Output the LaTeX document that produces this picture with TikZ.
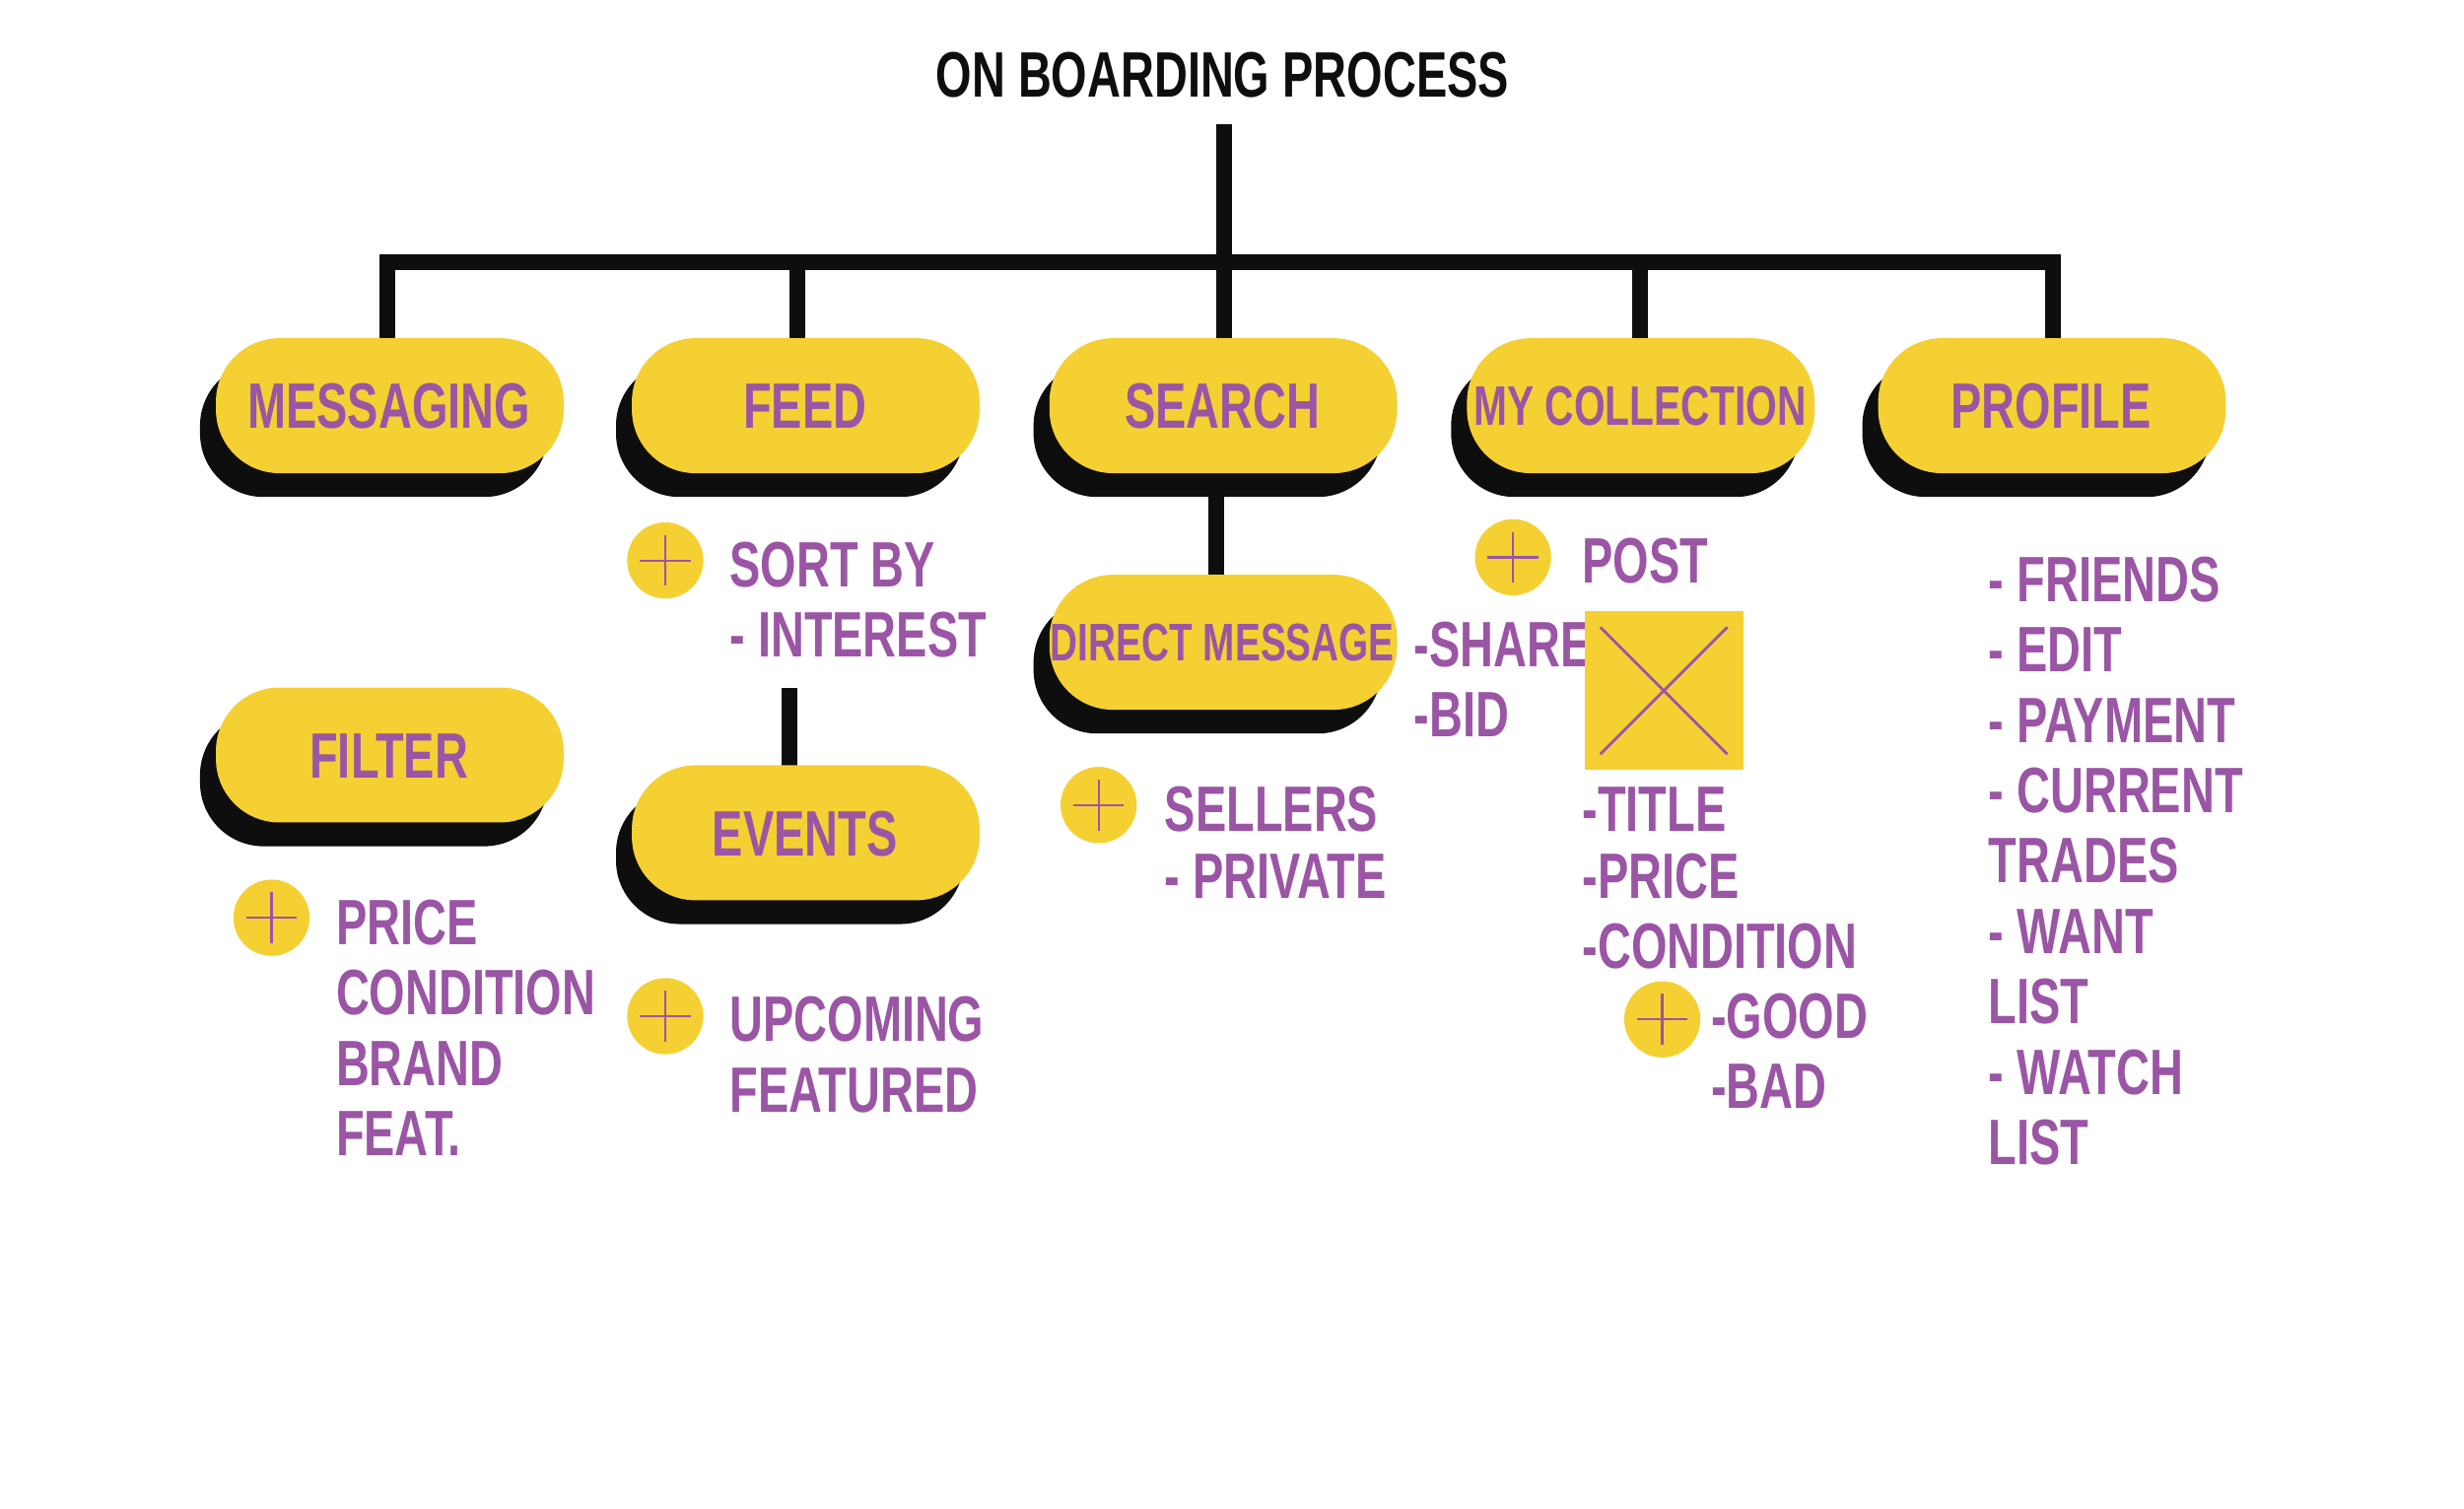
\documentclass[tikz,border=0pt]{standalone}
\usepackage{fontspec}
\setmainfont{Liberation Sans}[FakeStretch=0.72]
\definecolor{ylw}{HTML}{F5D033}
\definecolor{prp}{HTML}{9B55A5}
\definecolor{blk}{HTML}{0E0E0E}
\begin{document}
\begin{tikzpicture}[x=0.01cm,y=-0.01cm,
  conn/.style={line width=1mm,blk},
  lbl/.style={prp,font=\bfseries\fontsize{11.5}{12.6}\selectfont,anchor=west,inner sep=0pt},
  boxlbl/.style={prp,font=\bfseries\fontsize{11.5}{14}\selectfont}]
\useasboundingbox (0,0) rectangle (1552,950);
\newcommand{\mybox}[4]{%
  \fill[blk,rounded corners=0.4cm] (#2-10,#3+15) rectangle (#2+209,#3+100);
  \fill[ylw,rounded corners=0.4cm] (#2,#3) rectangle (#2+219,#3+85);
  \node[boxlbl] (#1) at (#2+109,#3+43) {#4};}
\newcommand{\plus}[3]{%
  \fill[ylw] (#2,#3) circle (24);
  \node[inner sep=0pt,minimum size=0.32cm] (#1) at (#2,#3) {};
  \draw[prp,line width=0.4pt] (#2-16,#3) -- (#2+16,#3) (#2,#3-16) -- (#2,#3+16);}
\node[blk,font=\bfseries\fontsize{11.5}{14}\selectfont] (title) at (770,47) {ON BOARDING PROCESS};
\coordinate (tr) at (771,78);
\coordinate (hub) at (771,165);
\draw[conn] (tr) -- (hub);
\draw[conn] (244,215) -- (244,165) -- (1293,165) -- (1293,215);
\draw[conn] (502,165) -- (502,215) (771,165)--(771,215) (1033,165)--(1033,215);
\draw[conn] (766,298) -- (766,365);
\draw[conn] (497,433) -- (497,485);
\mybox{msg}{136}{213}{MESSAGING}
\mybox{feed}{398}{213}{FEED}
\mybox{search}{661}{213}{SEARCH}
\mybox{coll}{924}{213}{\fontsize{10}{12}\selectfont MY COLLECTION}
\mybox{prof}{1183}{213}{PROFILE}
\mybox{dm}{661}{362}{\fontsize{9.5}{12}\selectfont DIRECT MESSAGE}
\mybox{filt}{136}{433}{FILTER}
\mybox{ev}{398}{482}{EVENTS}
\plus{p1}{419}{353}\plus{p2}{171}{578}\plus{p3}{419}{640}
\plus{p4}{692}{507}\plus{p5}{953}{351}\plus{p6}{1047}{642}
\node[lbl] (t1) at (459,356) {SORT BY};
\node[lbl] (t2) at (459,400) {- INTEREST};
\node[lbl,align=left,anchor=north west] (t3) at (211,566) {PRICE\\CONDITION\\BRAND\\FEAT.};
\node[lbl,align=left,anchor=north west] (t4) at (459,627) {UPCOMING\\FEATURED};
\node[lbl] (t5) at (733,510) {SELLERS};
\node[lbl] (t6) at (733,552) {- PRIVATE};
\node[lbl] (t7) at (996,353) {POST};
\node[lbl] (t8) at (890,406) {-SHARE};
\node[lbl] (t9) at (890,450) {-BID};
\fill[ylw] (998,385) rectangle (1098,485);
\draw[prp,line width=0.5pt] (1008,395) -- (1088,475) (1088,395) -- (1008,475);
\node[lbl] (t10) at (996,510) {-TITLE};
\node[lbl] (t11) at (996,552) {-PRICE};
\node[lbl] (t12) at (996,596) {-CONDITION};
\node[lbl] (t13) at (1077,640) {-GOOD};
\node[lbl] (t14) at (1077,684) {-BAD};
\node[lbl,align=left,anchor=north west] (t15) at (1252,350) {- FRIENDS\\- EDIT\\- PAYMENT\\- CURRENT\\TRADES\\- WANT\\LIST\\- WATCH\\LIST};
\end{tikzpicture}
\end{document}
